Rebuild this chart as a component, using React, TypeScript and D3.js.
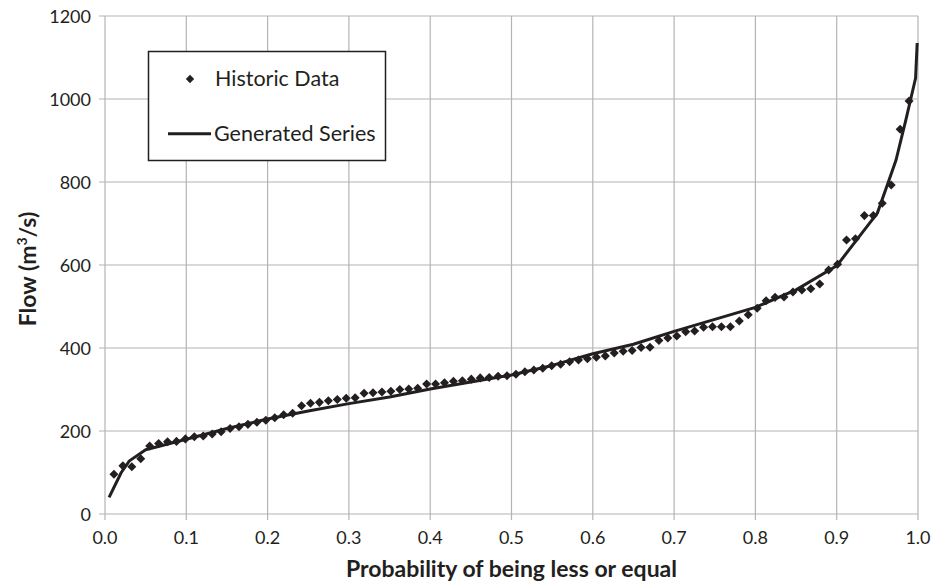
import React from 'react';
import * as d3 from 'd3';

// historic flows, sorted ascending (m3/s), plotted at rank/(n+1)
const historicFlow = [
  96, 116, 114, 133, 164, 170, 174, 175, 181, 186,
  188, 193, 198, 206, 210, 216, 221, 226, 232, 239,
  243, 261, 267, 269, 273, 276, 279, 280, 291, 292,
  294, 296, 300, 301, 303, 313, 313, 316, 320, 321,
  325, 328, 329, 332, 333, 337, 343, 347, 351, 357,
  361, 367, 371, 374, 378, 381, 388, 392, 394, 401,
  402, 418, 424, 429, 439, 441, 450, 451, 451, 451,
  465, 480, 496, 514, 522, 523, 535, 540, 543, 554,
  588, 602, 660, 663, 719, 719, 749, 793, 927, 995,
];

// generated series (probability / flow)
const generatedProb = [
  0.005, 0.02, 0.03, 0.05, 0.1, 0.15, 0.2, 0.25, 0.3, 0.35, 0.4, 0.45, 0.5, 0.55,
  0.6, 0.65, 0.7, 0.75, 0.8, 0.85, 0.9, 0.926, 0.95, 0.963, 0.973, 0.985, 0.997, 0.999,
];
const generatedFlow = [
  40, 100, 128, 155, 180, 206, 229, 248, 266, 282, 301, 318, 335, 358,
  386, 409, 440, 469, 498, 540, 598, 664, 725, 797, 853, 949, 1050, 1135,
];

const xTicks = [0, 0.1, 0.2, 0.3, 0.4, 0.5, 0.6, 0.7, 0.8, 0.9, 1.0];
const yTicks = [0, 200, 400, 600, 800, 1000, 1200];

const width = 936;
const height = 585;
const margin = { top: 16, right: 18, bottom: 71, left: 105 };
const font = 'Lato, "Open Sans", sans-serif';
const ink = '#231f20';
const gridColor = '#b4b4b4';

const App = () => {
  const x = d3.scaleLinear().domain([0, 1]).range([margin.left, width - margin.right]);
  const y = d3.scaleLinear().domain([0, 1200]).range([height - margin.bottom, margin.top]);

  const n = historicFlow.length;
  const points = historicFlow.map((v, i) => [(i + 1) / (n + 1), v]);

  const line = d3.line<number>()
    .x((_, i) => x(generatedProb[i]))
    .y(d => y(d));

  const diamond = d3.symbol().type(d3.symbolDiamond2).size(52)();
  const legendDiamond = d3.symbol().type(d3.symbolDiamond2).size(44)();

  return (
    <svg width={width} height={height} style={{ position: 'absolute', left: 0, top: 0, background: '#fff' }}
      fontFamily={font}>
      {/* grid */}
      {yTicks.map(t => (
        <line key={'gy' + t} x1={x(0) - 6} x2={x(1)} y1={y(t)} y2={y(t)} stroke={gridColor} strokeWidth={1.2} />
      ))}
      {xTicks.map(t => (
        <line key={'gx' + t} x1={x(t)} x2={x(t)} y1={y(1200)} y2={y(0) + 6} stroke={gridColor} strokeWidth={1.2} />
      ))}

      {/* tick labels */}
      {yTicks.map(t => (
        <text key={'ty' + t} x={x(0) - 14} y={y(t) + 6.5} textAnchor="end" fontSize={18} fill={ink}>{t}</text>
      ))}
      {xTicks.map(t => (
        <text key={'tx' + t} x={x(t)} y={y(0) + 30} textAnchor="middle" fontSize={18} fill={ink}>{t.toFixed(1)}</text>
      ))}

      {/* axis titles */}
      <text x={(x(0) + x(1)) / 2} y={577} textAnchor="middle" fontSize={23} fontWeight="bold" fill={ink}>
        Probability of being less or equal
      </text>
      <text transform={`translate(36,${(y(0) + y(1200)) / 2 + 4}) rotate(-90)`} textAnchor="middle" fontSize={23}
        fontWeight="bold" fill={ink}>
        Flow (m<tspan fontSize={14} dy={-9}>3</tspan><tspan dy={9}>/s)</tspan>
      </text>

      {/* generated series */}
      <path d={line(generatedFlow) || ''} fill="none" stroke={ink} strokeWidth={3} strokeLinejoin="round" />

      {/* historic data */}
      {points.map(([p, v], i) => (
        <path key={'h' + i} d={diamond || ''} transform={`translate(${x(p)},${y(v)})`} fill={ink} />
      ))}

      {/* legend */}
      <rect x={148.5} y={51.5} width={237} height={109} fill="#fff" stroke={ink} strokeWidth={1.5} />
      <path d={legendDiamond || ''} transform="translate(190,79)" fill={ink} />
      <text x={215} y={86} fontSize={21.5} fill={ink}>Historic Data</text>
      <line x1={168} x2={211} y1={133.7} y2={133.7} stroke={ink} strokeWidth={3} />
      <text x={214} y={141} fontSize={21.5} fill={ink}>Generated Series</text>
    </svg>
  );
};

export default App;
